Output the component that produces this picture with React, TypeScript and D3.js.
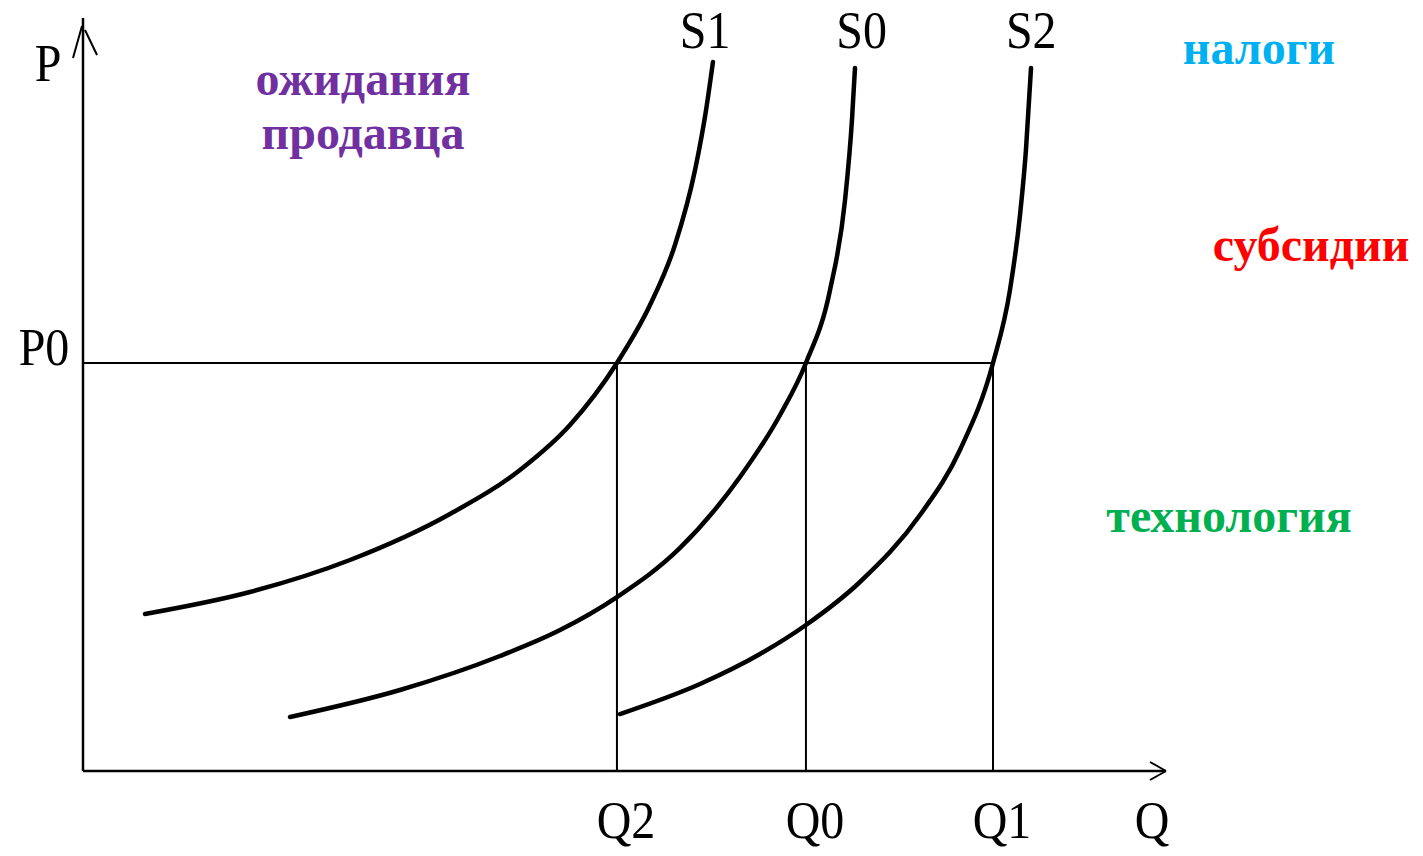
import React from 'react';
import * as d3 from 'd3';

// supply curves (Q, P in 0..100 units)
const s1 = [
  [5.74, 21.22], [15.46, 24.19], [24.72, 28.51], [33.98, 34.73], [40.46, 40.68], [45.09, 46.76],
  [49.44, 55.14], [52.5, 62.97], [54.81, 71.08], [56.67, 81.22], [57.69, 89.32], [58.33, 95.81],
];
const s0 = [
  [19.17, 7.3], [29.35, 10.95], [38.61, 15.54], [44.17, 19.05], [49.44, 23.51], [55.28, 30.14],
  [60.83, 39.73], [64.54, 48.11], [66.94, 55.14], [69.17, 65.0], [70.56, 77.16], [71.2, 87.97],
  [71.48, 95.0],
];
const s2 = [
  [49.72, 7.7], [57.13, 11.76], [62.69, 15.81], [66.94, 19.73], [71.94, 25.54], [77.5, 34.59],
  [81.2, 43.38], [84.26, 55.14], [85.83, 65.0], [86.76, 75.14], [87.31, 83.92], [87.78, 95.0],
];
const curveNames = ['S1', 'S0', 'S2'];
const qMarks = [49.44, 66.94, 84.26];
const qLabels = ['Q2', 'Q0', 'Q1'];
const p0 = 55.14;

const factors = [
  { lines: ['ожидания', 'продавца'], color: '#7030A0', x: 363, y: 95 },
  { lines: ['налоги'], color: '#00B0F0', x: 1259, y: 64 },
  { lines: ['субсидии'], color: '#FF0000', x: 1311, y: 261 },
  { lines: ['технология'], color: '#00B050', x: 1229, y: 532 },
];

const W = 1423;
const H = 856;
const x0 = 83;
const y0 = 771;
// where the curve names sit along Q
const nameQ = [57.6, 72.1, 87.8];

const x = d3.scaleLinear().domain([0, 100]).range([x0, x0 + 1080]);
const y = d3.scaleLinear().domain([0, 100]).range([y0, y0 - 740]);

const line = d3.line<number[]>()
  .x(d => x(d[0]))
  .y(d => y(d[1]))
  .curve(d3.curveMonotoneX);

const serif = '"Liberation Serif", "Times New Roman", serif';

const Label = ({ tx, ty, text, anchor = 'middle' }: any) => (
  <text
    transform={`translate(${tx},${ty}) scale(1,1.1)`}
    textAnchor={anchor}
    fontFamily={serif}
    fontSize={48}
    fill="#000"
  >
    {text}
  </text>
);

export default function App() {
  const curves = [s1, s0, s2];
  return (
    <svg width={W} height={H} style={{ position: 'absolute', left: 0, top: 0, background: '#fff' }}>
      {/* axes */}
      <line x1={x0} y1={y0} x2={x0} y2={18} stroke="#000" strokeWidth={2.5} />
      <line x1={x0} y1={y0} x2={1166} y2={y0} stroke="#000" strokeWidth={2.5} />
      <path d={`M73,58 L82,26 M97,55 L85,30`} stroke="#000" strokeWidth={2} fill="none" />
      <path d={`M1150,762 L1166,771 M1150,780 L1166,771`} stroke="#000" strokeWidth={2} fill="none" />

      {/* guides */}
      <line x1={x0} y1={y(p0)} x2={x(qMarks[2])} y2={y(p0)} stroke="#000" strokeWidth={2} />
      {qMarks.map((q, i) => (
        <line key={i} x1={x(q)} y1={y(p0)} x2={x(q)} y2={y0} stroke="#000" strokeWidth={2} />
      ))}

      {/* curves */}
      {curves.map((c, i) => (
        <path key={i} d={line(c) || ''} fill="none" stroke="#000" strokeWidth={4.5} strokeLinecap="round" />
      ))}

      {/* labels */}
      <Label tx={48} ty={81} text="P" />
      <Label tx={44} ty={365} text="P0" />
      {curveNames.map((n, i) => (
        <Label key={i} tx={x(nameQ[i])} ty={48} text={n} />
      ))}
      {qMarks.map((q, i) => (
        <Label key={i} tx={x(q) + 9} ty={838} text={qLabels[i]} />
      ))}
      <Label tx={1152} ty={838} text="Q" />

      {/* factor words */}
      {factors.map((f, i) => (
        <text key={i} textAnchor="middle" fontFamily={serif} fontWeight="bold" fontSize={48} fill={f.color}>
          {f.lines.map((l, j) => (
            <tspan key={j} x={f.x} y={f.y + j * 54}>{l}</tspan>
          ))}
        </text>
      ))}
    </svg>
  );
}
